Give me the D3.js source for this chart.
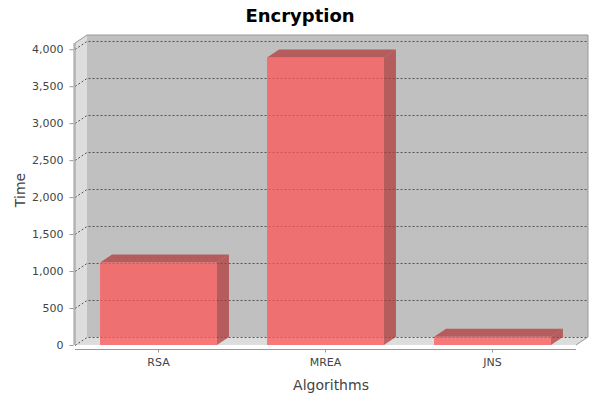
<!DOCTYPE html>
<html>
<head>
<meta charset="utf-8">
<script src="https://cdn.jsdelivr.net/npm/d3@7"></script>
<style>
html,body{margin:0;padding:0;background:#fff;}
svg{display:block;}
</style>
</head>
<body>
<svg id="chart" width="600" height="400"></svg>
<script>
const categories = ["RSA", "MREA", "JNS"];
const values = [1115, 3890, 110];
const yTicks = [0, 500, 1000, 1500, 2000, 2500, 3000, 3500, 4000];
const title = "Encryption";
const xTitle = "Algorithms";
const yTitle = "Time";

(function () {
const svg = d3.select("#chart");
const font = "'DejaVu Sans', sans-serif";
const dx = 12, dy = 8;
const pL = 75, pR = 576, pT = 43, pB = 345;

const x = d3.scaleBand().domain(categories).range([pL, pR])
  .paddingInner(0.3).paddingOuter(0.15);
const y = d3.scaleLinear().domain([0, d3.max(values) * 1.05]).range([pB, pT]);

// walls
svg.append("rect").attr("x", pL + dx).attr("y", pT - dy)
  .attr("width", pR - pL).attr("height", pB - pT).attr("fill", "#c0c0c0");
svg.append("polygon")
  .attr("points", [[pL, pT], [pL + dx, pT - dy], [pL + dx, pB - dy], [pL, pB]].join(" "))
  .attr("fill", "#dddddd");
svg.append("polygon")
  .attr("points", [[pL, pB], [pL + dx, pB - dy], [pR + dx, pB - dy], [pR, pB]].join(" "))
  .attr("fill", "#dddddd");

// gridlines
const grid = svg.append("g").attr("stroke", "#555").attr("stroke-width", 1)
  .attr("stroke-dasharray", "2,2").attr("fill", "none");
yTicks.forEach(t => {
  const yf = Math.round(y(t)) + 0.5;
  grid.append("path").attr("d", `M${pL},${yf}L${pL + dx},${yf - dy}L${pR + dx},${yf - dy}`);
});

// outline
svg.append("path")
  .attr("d", `M${pL},${pB}L${pL},${pT}L${pL + dx},${pT - dy}L${pR + dx},${pT - dy}L${pR + dx},${pB - dy}L${pR},${pB}`)
  .attr("fill", "none").attr("stroke", "#999").attr("stroke-width", 1);

// bars
const bars = svg.append("g");
categories.forEach((c, i) => {
  const x0 = x(c), w = x.bandwidth();
  const yt = y(values[i]), yb = y(0);
  const g = bars.append("g").attr("fill-opacity", 0.75);
  g.append("polygon")
    .attr("points", [[x0, yt], [x0 + dx, yt - dy], [x0 + w + dx, yt - dy], [x0 + w, yt]].join(" "))
    .attr("fill", "rgb(178,59,59)");
  g.append("polygon")
    .attr("points", [[x0 + w, yt], [x0 + w + dx, yt - dy], [x0 + w + dx, yb - dy], [x0 + w, yb]].join(" "))
    .attr("fill", "rgb(178,59,59)");
  g.append("rect").attr("x", x0).attr("y", yt).attr("width", w).attr("height", yb - yt)
    .attr("fill", "rgb(255,85,85)");
});

// y axis
const yAxis = svg.append("g").attr("transform", `translate(${pL - 1.5},0)`)
  .call(d3.axisLeft(y).tickValues(yTicks).tickFormat(d3.format(",")).tickSize(4).tickPadding(6));
yAxis.select(".domain").attr("stroke", "#999").attr("d", `M0.5,${pT}V${pB}`);
yAxis.selectAll(".tick line").attr("stroke", "#999");
yAxis.selectAll("text").attr("fill", "#444").style("font-family", font).style("font-size", "11px");

// x axis
const xAxis = svg.append("g").attr("transform", `translate(0,${pB + 4.5})`)
  .call(d3.axisBottom(x).tickSize(3).tickPadding(6));
xAxis.select(".domain").attr("stroke", "#999").attr("d", `M${pL},0H${pR}`);
xAxis.selectAll(".tick line").attr("stroke", "#999");
xAxis.selectAll("text").attr("fill", "#444").style("font-family", font).style("font-size", "11px");

// titles
svg.append("text").attr("x", 300).attr("y", 22).attr("text-anchor", "middle")
  .style("font-family", font).style("font-weight", "bold").style("font-size", "18px")
  .attr("fill", "#000").text(title);
svg.append("text").attr("x", 331).attr("y", 390).attr("text-anchor", "middle")
  .style("font-family", font).style("font-size", "14px").attr("fill", "#444").text(xTitle);
svg.append("text").attr("transform", "translate(25,190) rotate(-90)").attr("text-anchor", "middle")
  .style("font-family", font).style("font-size", "14px").attr("fill", "#444").text(yTitle);
})();
</script>
</body>
</html>
